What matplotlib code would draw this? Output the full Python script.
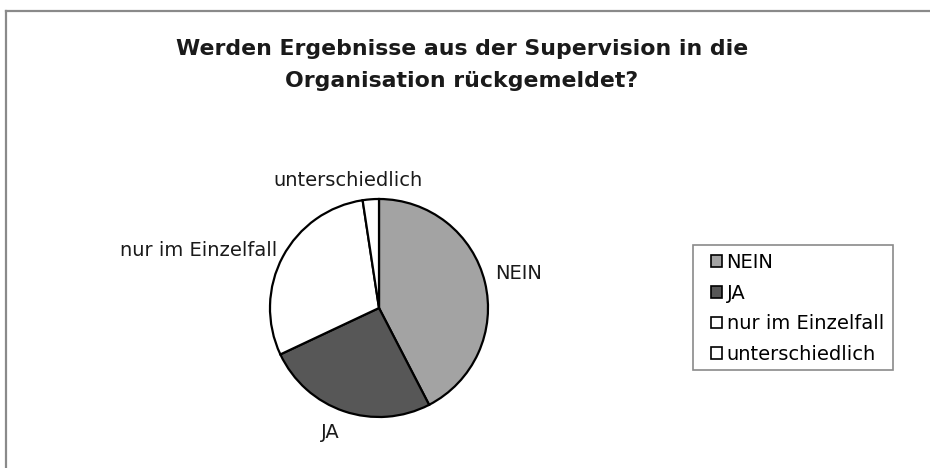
import matplotlib
matplotlib.use("Agg")
import matplotlib.pyplot as plt
from matplotlib.lines import Line2D
from matplotlib.patches import Rectangle

plt.rcParams['font.family'] = ['DejaVu Sans']

categories = ["NEIN", "JA", "nur im Einzelfall", "unterschiedlich"]
values = [42.4, 25.6, 29.6, 2.4]
colors = ["#a3a3a3", "#575757", "#ffffff", "#ffffff"]
title = "Werden Ergebnisse aus der Supervision in die\nOrganisation rückgemeldet?"

W, H = 930, 468
fig = plt.figure(figsize=(W / 100, H / 100), dpi=100)
fig.patch.set_facecolor("white")

# frame lines (top and left)
fig.add_artist(Line2D([6 / W, 1], [1 - 11 / H, 1 - 11 / H], color="#8a8a8a", lw=1.6))
fig.add_artist(Line2D([6 / W, 6 / W], [0, 1 - 11 / H], color="#8a8a8a", lw=1.6))

cx, cy, r = 379, 308, 109
ax = fig.add_axes([(cx - r) / W, (H - cy - r) / H, 2 * r / W, 2 * r / H])
wedges, _ = ax.pie(values, colors=colors, startangle=90, counterclock=False,
                   wedgeprops=dict(edgecolor="black", linewidth=1.6),
                   radius=1)
ax.set_xlim(-1, 1)
ax.set_ylim(-1, 1)
ax.set_aspect("equal")
ax.axis("off")

label_pos = [(1.284, 0.312, "center"), (-0.45, -1.138, "center"),
             (-0.935, 0.532, "right"), (-0.972, 1.174, "left")]
for name, (x, y, ha) in zip(categories, label_pos):
    ax.text(x, y, name, ha=ha, va="center", fontsize=14, color="#1a1a1a",
            clip_on=False)

fig.text(462 / W, 1 - 65 / H, title, ha="center", va="center",
         fontsize=15.8, fontweight="bold", color="#1a1a1a", linespacing=1.75)

# legend frame
fig.add_artist(Rectangle((693 / W, 1 - 370 / H), 200 / W, 125 / H,
                         transform=fig.transFigure, facecolor="white",
                         edgecolor="#8a8a8a", linewidth=1.2))
leg = fig.legend(wedges, categories, loc="upper left",
                 bbox_to_anchor=(711 / W, 1 - 253 / H),
                 fontsize=14, frameon=False,
                 handlelength=0.55, handleheight=0.55, handletextpad=0.25,
                 labelspacing=0.6, borderpad=0, borderaxespad=0)
for h in leg.legend_handles:
    h.set_linewidth(1.2)

fig.savefig("out.png", dpi=100, facecolor="white")
